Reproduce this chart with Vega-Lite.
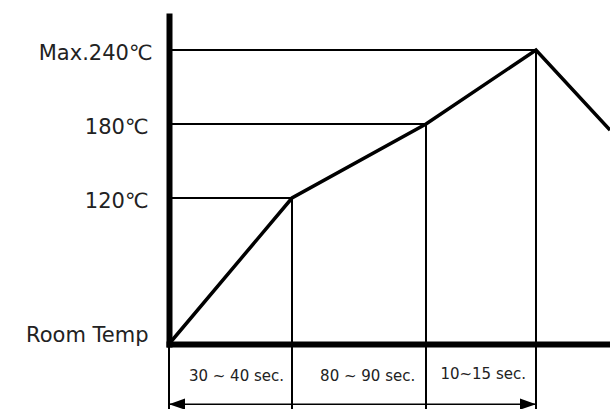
{
  "$schema": "https://vega.github.io/schema/vega-lite/v6.json",
  "width": 441,
  "height": 344,
  "autosize": {"type": "none"},
  "padding": {"left": 169, "top": 0, "right": 0, "bottom": 65},
  "background": "white",
  "config": {"view": {"stroke": null}},
  "datasets": {
    "profile": [
      {"time": 0, "temp": 25},
      {"time": 35, "temp": 120},
      {"time": 120, "temp": 180},
      {"time": 132.5, "temp": 240},
      {"time": 141, "temp": 175}
    ],
    "marks": [
      {"time": 35, "temp": 120, "origin": 0, "base": 25},
      {"time": 120, "temp": 180, "origin": 0, "base": 25},
      {"time": 132.5, "temp": 240, "origin": 0, "base": 25}
    ],
    "bounds": [
      {"time": 0, "top": 0, "bottom": 1},
      {"time": 35, "top": 0, "bottom": 1},
      {"time": 120, "top": 0, "bottom": 1},
      {"time": 132.5, "top": 0, "bottom": 1}
    ],
    "phases": [
      {"label": "30 ~ 40 sec.", "pos": 19.2, "row": 0.49},
      {"label": "80 ~ 90 sec.", "pos": 83, "row": 0.49},
      {"label": "10~15 sec.", "pos": 126.5, "row": 0.455}
    ],
    "arrow": [{"start": 0, "end": 132.5, "row": 0.925}],
    "heads": [
      {"time": 0, "row": 0.925, "dir": "left"},
      {"time": 132.5, "row": 0.925, "dir": "right"}
    ]
  },
  "resolve": {"scale": {"y": "independent"}, "axis": {"y": "independent"}},
  "layer": [
    {
      "layer": [
        {
          "data": {"name": "profile"},
          "mark": {"type": "line", "color": "black", "strokeWidth": 3.5, "strokeJoin": "miter", "clip": false},
          "encoding": {
            "x": {
              "field": "time", "type": "quantitative",
              "scale": {"domain": [0, 35, 120, 132.5, 141], "range": [0, 123, 257, 367, 441], "nice": false, "zero": false},
              "axis": {"labels": false, "ticks": false, "grid": false, "title": null, "domainWidth": 6, "domainColor": "black", "domainCap": "square"}
            },
            "y": {
              "field": "temp", "type": "quantitative",
              "scale": {"domain": [25, 120, 180, 240, 265], "range": [344, 198, 124, 50, 16], "nice": false, "zero": false},
              "axis": {
                "values": [25, 120, 180, 240],
                "labelExpr": "datum.value == 25 ? 'Room Temp' : (datum.value == 240 ? 'Max.240℃' : datum.value + '℃')",
                "ticks": false, "tickSize": 0, "grid": false, "title": null,
                "domainWidth": 6, "domainColor": "black", "domainCap": "square",
                "labelFont": "DejaVu Sans", "labelFontSize": 21, "labelColor": "#222222",
                "labelOverlap": false,
                "labelPadding": {"condition": {"test": "datum.value == 240", "value": 17}, "value": 21},
                "labelOffset": {"condition": {"test": "datum.value == 25", "value": -9}, "value": 3}
              }
            }
          }
        },
        {
          "data": {"name": "marks"},
          "mark": {"type": "rule", "color": "black", "strokeWidth": 2},
          "encoding": {
            "x": {"field": "origin", "type": "quantitative"},
            "x2": {"field": "time"},
            "y": {"field": "temp", "type": "quantitative"}
          }
        },
        {
          "data": {"name": "marks"},
          "mark": {"type": "rule", "color": "black", "strokeWidth": 2},
          "encoding": {
            "x": {"field": "time", "type": "quantitative"},
            "y": {"field": "temp", "type": "quantitative"},
            "y2": {"field": "base"}
          }
        }
      ]
    },
    {
      "layer": [
        {
          "data": {"name": "bounds"},
          "mark": {"type": "rule", "color": "black", "strokeWidth": 2, "clip": false},
          "encoding": {
            "x": {"field": "time", "type": "quantitative"},
            "y": {"field": "top", "type": "quantitative", "scale": {"domain": [0, 1], "range": [344, 409], "nice": false, "zero": false}, "axis": null},
            "y2": {"field": "bottom"}
          }
        },
        {
          "data": {"name": "phases"},
          "mark": {"type": "text", "font": "DejaVu Sans", "fontSize": 15, "color": "#222222", "align": "center", "baseline": "middle"},
          "encoding": {
            "x": {"field": "pos", "type": "quantitative"},
            "y": {"field": "row", "type": "quantitative"},
            "text": {"field": "label"}
          }
        },
        {
          "data": {"name": "arrow"},
          "mark": {"type": "rule", "color": "black", "strokeWidth": 1.5},
          "encoding": {
            "x": {"field": "start", "type": "quantitative"},
            "x2": {"field": "end"},
            "y": {"field": "row", "type": "quantitative"}
          }
        },
        {
          "data": {"name": "heads"},
          "mark": {"type": "point", "filled": true, "color": "black", "opacity": 1, "size": 256, "strokeWidth": 0},
          "encoding": {
            "x": {"field": "time", "type": "quantitative"},
            "y": {"field": "row", "type": "quantitative"},
            "shape": {"field": "dir", "type": "nominal", "scale": {"domain": ["left", "right"], "range": ["M0,0L2,-0.7L2,0.7Z", "M0,0L-2,-0.7L-2,0.7Z"]}, "legend": null}
          }
        }
      ]
    }
  ]
}
